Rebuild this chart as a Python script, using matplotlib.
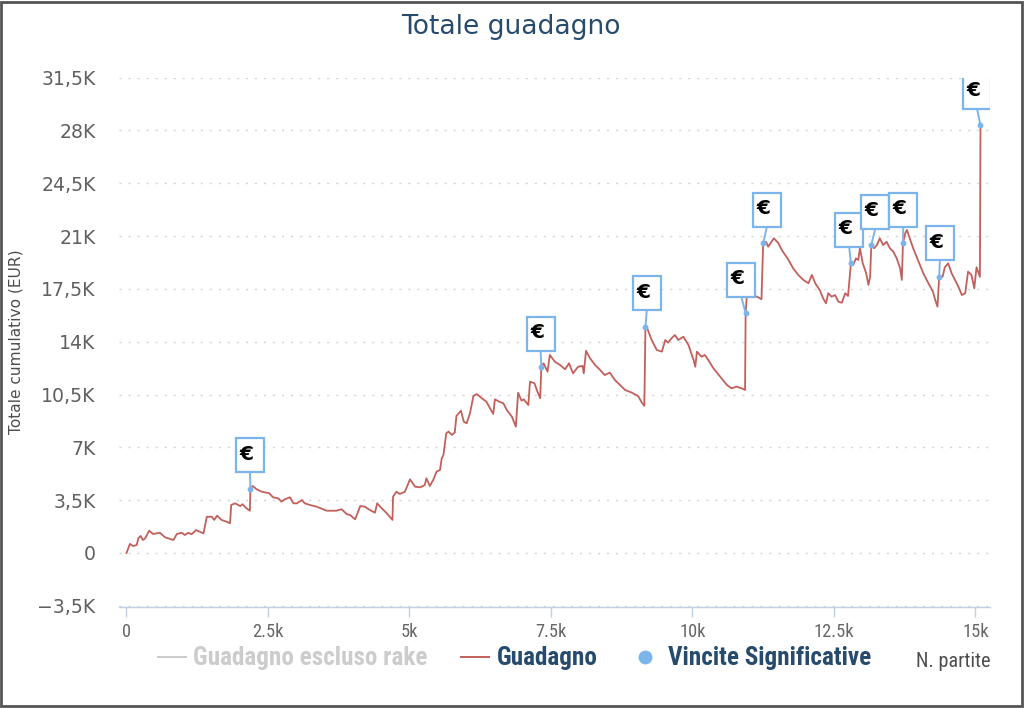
import matplotlib
matplotlib.use("Agg")
import matplotlib.pyplot as plt
from matplotlib import font_manager as fm
from matplotlib import transforms as mtrans
from matplotlib.patches import Rectangle
from matplotlib.lines import Line2D

# ---------------- data ----------------
games = [
    0, 60, 120, 180, 210, 250, 290, 330, 400, 470, 590, 680, 830, 890, 980,
    1030, 1090, 1150, 1230, 1360, 1420, 1510, 1550, 1600, 1680, 1770, 1830,
    1850, 1920, 2010, 2050, 2120, 2180, 2190, 2230, 2300, 2390, 2520, 2590,
    2680, 2740, 2800, 2890, 2950, 3010, 3100, 3150, 3240, 3360, 3540, 3710,
    3800, 3890, 3950, 4040, 4130, 4210, 4300, 4390, 4430, 4510, 4600, 4700,
    4710, 4770, 4830, 4920, 5010, 5100, 5190, 5270, 5300, 5360, 5420, 5480,
    5540, 5570, 5600, 5650, 5690, 5750, 5800, 5830, 5910, 5960, 6010, 6070,
    6130, 6190, 6280, 6360, 6480, 6510, 6590, 6660, 6720, 6810, 6880, 6920,
    6980, 7020, 7100, 7130, 7210, 7250, 7310, 7330, 7370, 7440, 7480, 7570,
    7660, 7750, 7820, 7890, 7980, 8060, 8080, 8120, 8190, 8280, 8370, 8450,
    8540, 8630, 8720, 8810, 8930, 9040, 9100, 9150, 9170, 9200, 9280, 9370,
    9460, 9520, 9570, 9630, 9690, 9750, 9840, 9930, 10020, 10050, 10080,
    10160, 10220, 10280, 10370, 10490, 10610, 10690, 10780, 10870, 10930,
    10940, 10960, 11050, 11140, 11220, 11250, 11300, 11340, 11380, 11440,
    11520, 11580, 11640, 11690, 11780, 11870, 11960, 12050, 12110, 12170,
    12250, 12310, 12360, 12400, 12460, 12520, 12580, 12640, 12700, 12750,
    12800, 12840, 12890, 12930, 12960, 13010, 13070, 13110, 13140, 13160,
    13210, 13260, 13310, 13370, 13430, 13490, 13550, 13610, 13670, 13700,
    13720, 13760, 13790, 13840, 13900, 13960, 14020, 14080, 14170, 14250,
    14290, 14330, 14360, 14420, 14460, 14520, 14580, 14640, 14700, 14760,
    14820, 14870, 14930, 14980, 15020, 15080, 15090,
]
profit = [
    0, 600, 460, 530, 970, 1130, 860, 970, 1480, 1260, 1340, 1040, 860, 1260, 1340,
    1190, 1340, 1240, 1520, 1300, 2400, 2400, 2190, 2470, 2190, 2070, 1970,
    3180, 3290, 3110, 3230, 2960, 2800, 4270, 4440, 4220, 4060, 3960, 3690,
    3620, 3400, 3560, 3690, 3290, 3290, 3510, 3290, 3180, 3070, 2800, 2800,
    2900, 2580, 2520, 2230, 3110, 3070, 2850, 2670, 3290, 2960, 2630, 2190,
    3730, 4060, 3910, 4060, 4880, 4390, 4350, 4500, 4950, 4440, 4840, 5390,
    5500, 6270, 6490, 7930, 8040, 7820, 7970, 9080, 9430, 8700, 8590, 9260,
    10400, 10530, 10250, 10020, 9210, 10180, 10020, 9920, 9470, 9030, 8370, 10620,
    10090, 10180, 9800, 11350, 11240, 10800, 10250, 12320, 12570, 12010, 13120, 12670,
    12460, 12170, 12570, 11900, 12340, 12390, 11900, 13400, 12900, 12460, 12120, 11790,
    11950, 11460, 11130, 10800, 10620, 10400, 10000, 9750, 14990, 14890, 14110, 13450,
    13340, 14110, 13930, 14220, 14440, 14110, 14330, 13780, 12790, 12340, 13340,
    13000, 13120, 12790, 12240, 11680, 11130, 10910, 11020, 10910, 10800,
    15880, 16980, 17100, 16980, 16810, 20520, 20620, 20290, 20520, 20850,
    20520, 20070, 19740, 19460, 18860, 18420, 18090, 17870, 18420, 17870,
    17420, 16870, 16540, 17210, 16980, 17090, 16650, 16580, 17210, 17030,
    19190, 19080, 19520, 19410, 20190, 19190, 18530, 17760, 18300, 20400,
    20190, 20400, 20850, 20400, 20620, 20190, 19960, 19520, 18860, 18090,
    20520, 21180, 21400, 20850, 20190, 19630, 19080, 18530, 17870, 17310,
    16760, 16320, 18300, 18300, 18930, 19190, 18530, 18090, 17640, 17090,
    17210, 18640, 18420, 17540, 18930, 18300, 28350,
]
win_games = [2190, 7330, 9170, 10940, 11250, 12800, 13160, 13720, 14360, 15090]
win_values = [4270, 12320, 14990, 15880, 20520, 19190, 20400, 20520, 18300, 28350]

x_tick_values = [0, 2500, 5000, 7500, 10000, 12500, 15000]
x_tick_labels = ["0", "2.5k", "5k", "7.5k", "10k", "12.5k", "15k"]
y_tick_values = [-3500, 0, 3500, 7000, 10500, 14000, 17500, 21000, 24500, 28000, 31500]
y_tick_labels = ["\u22123,5K", "0", "3,5K", "7K", "10,5K", "14K", "17,5K",
                 "21K", "24,5K", "28K", "31,5K"]

title_text = "Totale guadagno"
y_title = "Totale cumulativo (EUR)"
x_title = "N. partite"
series_names = ["Guadagno escluso rake", "Guadagno", "Vincite Significative"]
label_text = "\u20ac"

# ---------------- style ----------------
W, H = 1024, 708
LINE_COLOR = "#c2605c"
BLUE = "#7cb5ec"
DARK_BLUE = "#274b6d"
HIDDEN = "#cccccc"
label_dx = [-14.5, -14.7, -12.7, -18.3, -10.3, -15.7, -10.0, -13.7, -13.3, -17.5]
BOX_W, BOX_H, BOX_GAP = 28, 34, 16.5


def pick_narrow():
    entries = fm.fontManager.ttflist
    names = {e.name for e in entries}
    for n in ["Liberation Sans Narrow", "Roboto Condensed", "Open Sans Condensed",
              "DejaVu Sans Condensed", "Noto Sans Condensed"]:
        if n in names:
            return {"family": n}
    for fam in ["Noto Sans", "Open Sans", "DejaVu Sans", "Roboto", "Inter"]:
        if any(e.name == fam and str(e.stretch) in ("condensed", "semi-condensed", "extra-condensed")
               for e in entries):
            return {"family": fam, "fontstretch": "condensed"}
    return {"family": "Roboto"}


NARROW = pick_narrow()

fig = plt.figure(figsize=(W / 100, H / 100), dpi=100)
fig.patch.set_facecolor("white")
renderer = fig.canvas.get_renderer()


def fit_size(s, target_px, **kw):
    t = fig.text(0, 0, s, fontsize=10, **kw)
    w = t.get_window_extent(renderer).width
    t.remove()
    return 10.0 * target_px / w


left_px, right_px, top_px, bottom_px = 119.3, 990.0, 77.5, 606.7
ax = fig.add_axes([left_px / W, 1 - bottom_px / H, (right_px - left_px) / W,
                   (bottom_px - top_px) / H])
ax.set_facecolor("white")

# main series
ax.plot(games, profit, color=LINE_COLOR, lw=1.3, zorder=3, solid_joinstyle="round")
ax.scatter(win_games, win_values, s=18, color=BLUE, zorder=5, linewidths=0)

ax.set_xlim(-127, 15258)
ax.set_ylim(-3558, 31502)

# axes styling
for side in ["left", "right", "top"]:
    ax.spines[side].set_visible(False)
ax.spines["bottom"].set_color("#C0D0E0")
ax.spines["bottom"].set_linewidth(1)

xsize = fit_size("2.5k", 31, **NARROW)
ax.set_xticks(x_tick_values)
ax.set_xticklabels(x_tick_labels, color="#666666", fontsize=xsize, **NARROW)
ax.tick_params(axis="x", direction="out", length=7, width=1, color="#C0D0E0", pad=5)

ysize = fit_size("31,5K", 54, family="DejaVu Sans")
ax.set_yticks(y_tick_values)
ax.set_yticklabels(y_tick_labels, color="#606060", fontsize=ysize, family="DejaVu Sans")
ax.tick_params(axis="y", length=0, pad=17)
ax.yaxis.grid(True, color="#d4d4d4", linestyle=(0, (1.5, 5)), lw=1)
ax.set_axisbelow(True)

# data labels (boxes with euro sign)
for i, (gx, gy) in enumerate(zip(win_games, win_values)):
    tr = fig.dpi_scale_trans + mtrans.ScaledTranslation(gx, gy, ax.transData)
    dx = label_dx[i]
    conn = Line2D([0, (dx + BOX_W / 2) / 100], [0, BOX_GAP / 100], transform=tr,
                  color=BLUE, lw=1.4, zorder=6)
    ax.add_artist(conn)
    rect = Rectangle((dx / 100, BOX_GAP / 100), BOX_W / 100, BOX_H / 100, transform=tr,
                     facecolor="white", edgecolor=BLUE, lw=1.6, zorder=6)
    ax.add_artist(rect)
    ax.text((dx + 3.5) / 100, (BOX_GAP + BOX_H / 2 + 1) / 100, label_text, transform=tr,
            ha="left", va="center", fontsize=14.5, fontweight="bold", color="black",
            family="DejaVu Sans", zorder=7, clip_on=True)

# title
tsize = fit_size(title_text, 220, family="DejaVu Sans")
fig.text(510.7 / W, 1 - 34.3 / H, title_text, ha="center", va="baseline",
         fontsize=tsize, color=DARK_BLUE, family="DejaVu Sans")

# y title
ylsize = fit_size(y_title, 185, family="DejaVu Sans")
fig.text(16 / W, 1 - 342 / H, y_title, rotation=90, ha="center", va="center",
         fontsize=ylsize, color="#4d4d4d", family="DejaVu Sans")

# x title
xtsize = fit_size(x_title, 74, **NARROW)
fig.text(990 / W, 1 - 667 / H, x_title, ha="right", va="baseline",
         fontsize=xtsize, color="#4d4d4d", **NARROW)

# legend (manual, Highcharts-like)
leg_y = 1 - 657 / H
leg_base = 1 - 665 / H
lsize = fit_size(series_names[1], 100, fontweight="bold", **NARROW)
fig.add_artist(Line2D([158 / W, 186 / W], [leg_y, leg_y], transform=fig.transFigure,
                      color=HIDDEN, lw=1.4))
fig.text(193 / W, leg_base, series_names[0], ha="left", va="baseline", fontsize=lsize,
         fontweight="bold", color=HIDDEN, **NARROW)
fig.add_artist(Line2D([461 / W, 489 / W], [leg_y, leg_y], transform=fig.transFigure,
                      color=LINE_COLOR, lw=1.4))
fig.text(497 / W, leg_base, series_names[1], ha="left", va="baseline", fontsize=lsize,
         fontweight="bold", color=DARK_BLUE, **NARROW)
fig.add_artist(Line2D([645 / W], [leg_y], transform=fig.transFigure, marker="o",
                      markersize=10, color=BLUE, markeredgewidth=0, linestyle="none"))
fig.text(668 / W, leg_base, series_names[2], ha="left", va="baseline", fontsize=lsize,
         fontweight="bold", color=DARK_BLUE, **NARROW)

# outer border
fig.add_artist(Rectangle((1 / W, 2 / H), (W - 3) / W, (H - 3.5) / H, transform=fig.transFigure,
                         fill=False, edgecolor="#555555", lw=2))

fig.savefig("out.png", dpi=100, facecolor="white")
